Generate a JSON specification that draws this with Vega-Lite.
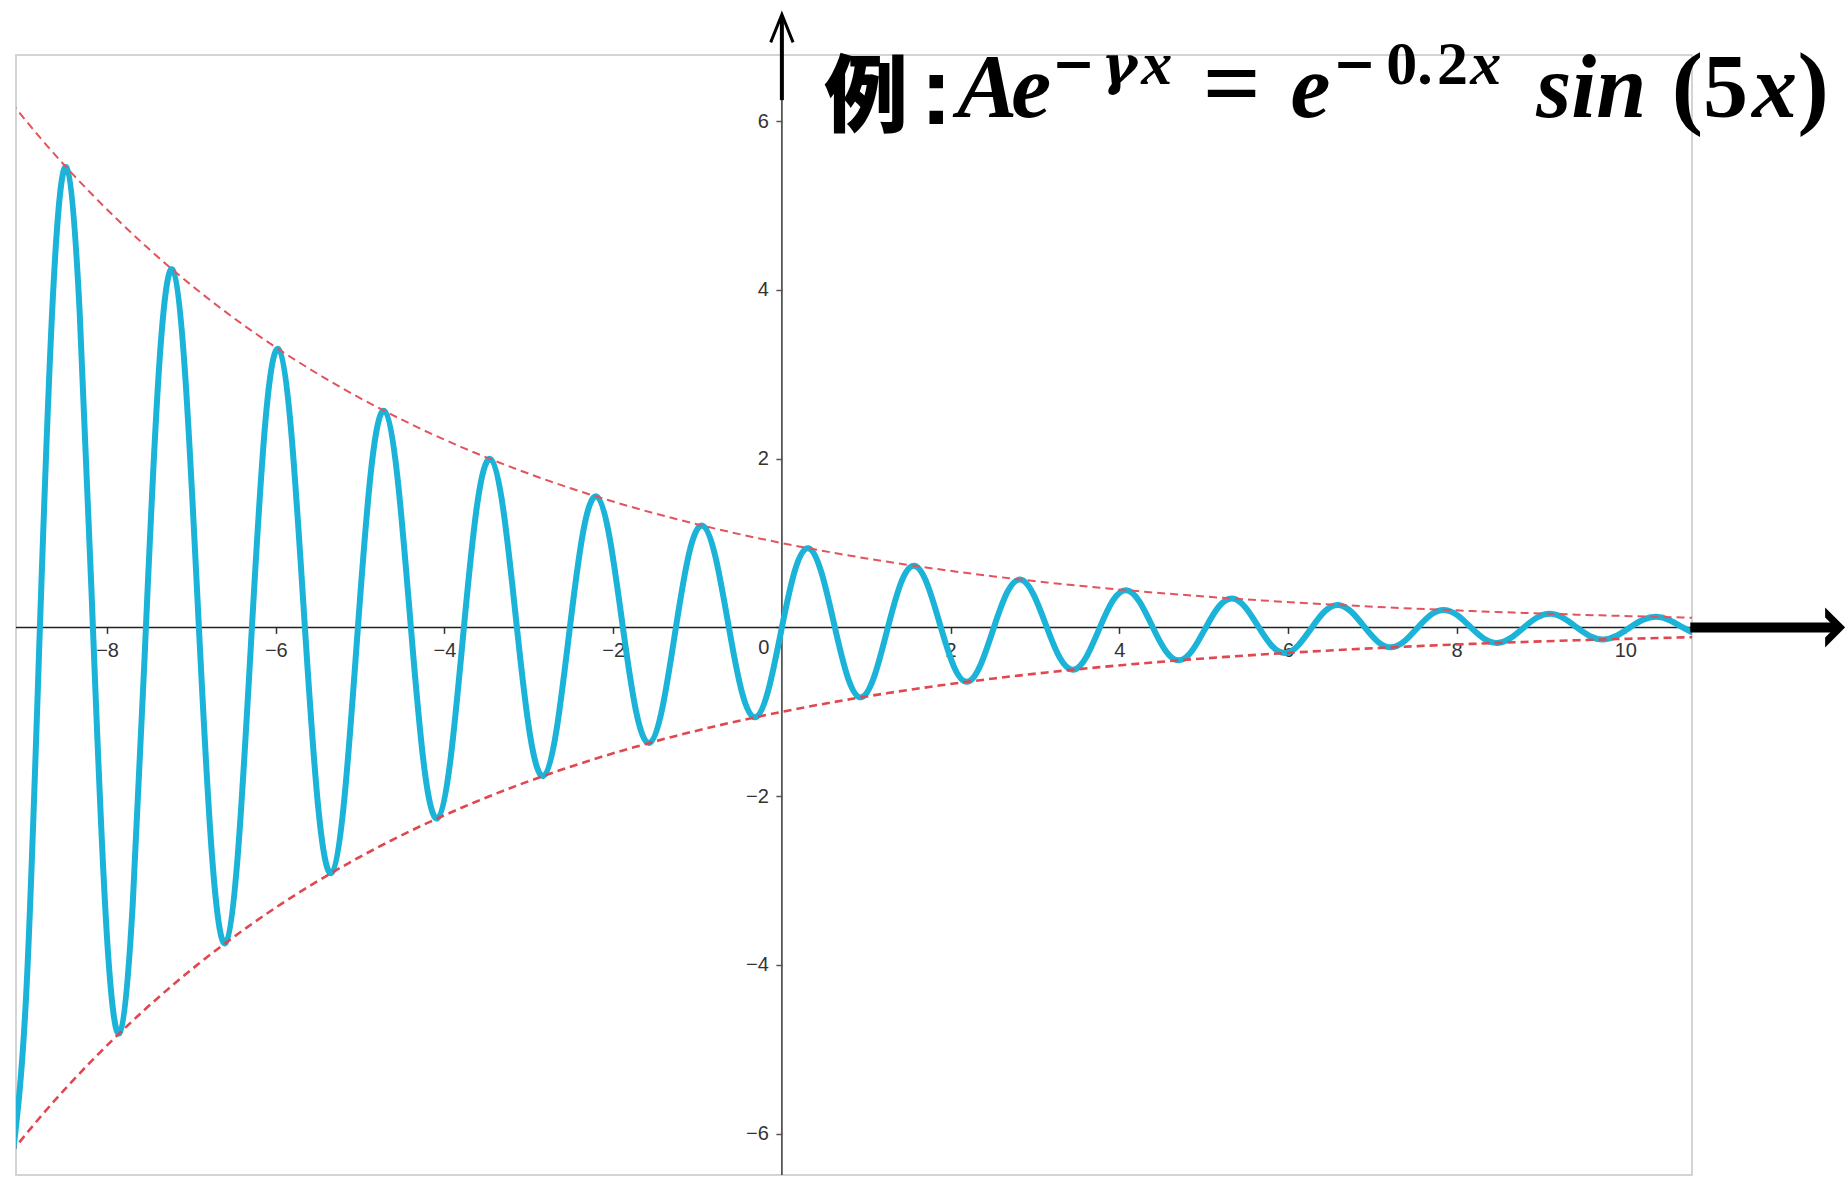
{
  "$schema": "https://vega.github.io/schema/vega-lite/v6.json",
  "width": 1676,
  "height": 1120,
  "autosize": {"type": "none"},
  "padding": {"left": 16, "top": 55, "right": 153, "bottom": 7},
  "background": "white",
  "config": {
    "view": {"stroke": "#d4d4d4", "strokeWidth": 2}
  },
  "data": {"values": [{}]},
  "datasets": {
    "wave": [
      {"x": -9.1106, "y": -6.185}, {"x": -8.9535, "y": -4.2382}, {"x": -8.7965, "y": 0}, {"x": -8.6394, "y": 3.9801},
      {"x": -8.4823, "y": 5.4546}, {"x": -8.3252, "y": 3.7377}, {"x": -8.1681, "y": 0}, {"x": -8.0111, "y": -3.5101},
      {"x": -7.854, "y": -4.8105}, {"x": -7.6969, "y": -3.2963}, {"x": -7.5398, "y": 0}, {"x": -7.3827, "y": 3.0956},
      {"x": -7.2257, "y": 4.2424}, {"x": -7.0686, "y": 2.9071}, {"x": -6.9115, "y": 0}, {"x": -6.7544, "y": -2.73},
      {"x": -6.5973, "y": -3.7414}, {"x": -6.4403, "y": -2.5638}, {"x": -6.2832, "y": 0}, {"x": -6.1261, "y": 2.4076},
      {"x": -5.969, "y": 3.2996}, {"x": -5.8119, "y": 2.261}, {"x": -5.6549, "y": 0}, {"x": -5.4978, "y": -2.1233},
      {"x": -5.3407, "y": -2.91}, {"x": -5.1836, "y": -1.994}, {"x": -5.0265, "y": 0}, {"x": -4.8695, "y": 1.8726},
      {"x": -4.7124, "y": 2.5663}, {"x": -4.5553, "y": 1.7586}, {"x": -4.3982, "y": 0}, {"x": -4.2412, "y": -1.6515},
      {"x": -4.0841, "y": -2.2633}, {"x": -3.927, "y": -1.5509}, {"x": -3.7699, "y": 0}, {"x": -3.6128, "y": 1.4564},
      {"x": -3.4558, "y": 1.996}, {"x": -3.2987, "y": 1.3677}, {"x": -3.1416, "y": 0}, {"x": -2.9845, "y": -1.2845},
      {"x": -2.8274, "y": -1.7603}, {"x": -2.6704, "y": -1.2062}, {"x": -2.5133, "y": 0}, {"x": -2.3562, "y": 1.1328},
      {"x": -2.1991, "y": 1.5524}, {"x": -2.042, "y": 1.0638}, {"x": -1.885, "y": 0}, {"x": -1.7279, "y": -0.999},
      {"x": -1.5708, "y": -1.3691}, {"x": -1.4137, "y": -0.9382}, {"x": -1.2566, "y": 0}, {"x": -1.0996, "y": 0.881},
      {"x": -0.9425, "y": 1.2074}, {"x": -0.7854, "y": 0.8274}, {"x": -0.6283, "y": 0}, {"x": -0.4712, "y": -0.777},
      {"x": -0.3142, "y": -1.0648}, {"x": -0.1571, "y": -0.7297}, {"x": 0, "y": 0}, {"x": 0.1571, "y": 0.6852},
      {"x": 0.3142, "y": 0.9391}, {"x": 0.4712, "y": 0.6435}, {"x": 0.6283, "y": 0}, {"x": 0.7854, "y": -0.6043},
      {"x": 0.9425, "y": -0.8282}, {"x": 1.0996, "y": -0.5675}, {"x": 1.2566, "y": 0}, {"x": 1.4137, "y": 0.533},
      {"x": 1.5708, "y": 0.7304}, {"x": 1.7279, "y": 0.5005}, {"x": 1.885, "y": 0}, {"x": 2.042, "y": -0.47},
      {"x": 2.1991, "y": -0.6441}, {"x": 2.3562, "y": -0.4414}, {"x": 2.5133, "y": 0}, {"x": 2.6704, "y": 0.4145},
      {"x": 2.8274, "y": 0.5681}, {"x": 2.9845, "y": 0.3893}, {"x": 3.1416, "y": 0}, {"x": 3.2987, "y": -0.3656},
      {"x": 3.4558, "y": -0.501}, {"x": 3.6128, "y": -0.3433}, {"x": 3.7699, "y": 0}, {"x": 3.927, "y": 0.3224},
      {"x": 4.0841, "y": 0.4418}, {"x": 4.2412, "y": 0.3028}, {"x": 4.3982, "y": 0}, {"x": 4.5553, "y": -0.2843},
      {"x": 4.7124, "y": -0.3897}, {"x": 4.8695, "y": -0.267}, {"x": 5.0265, "y": 0}, {"x": 5.1836, "y": 0.2508},
      {"x": 5.3407, "y": 0.3436}, {"x": 5.4978, "y": 0.2355}, {"x": 5.6549, "y": 0}, {"x": 5.8119, "y": -0.2211},
      {"x": 5.969, "y": -0.3031}, {"x": 6.1261, "y": -0.2077}, {"x": 6.2832, "y": 0}, {"x": 6.4403, "y": 0.195},
      {"x": 6.5973, "y": 0.2673}, {"x": 6.7544, "y": 0.1831}, {"x": 6.9115, "y": 0}, {"x": 7.0686, "y": -0.172},
      {"x": 7.2257, "y": -0.2357}, {"x": 7.3827, "y": -0.1615}, {"x": 7.5398, "y": 0}, {"x": 7.6969, "y": 0.1517},
      {"x": 7.854, "y": 0.2079}, {"x": 8.0111, "y": 0.1424}, {"x": 8.1681, "y": 0}, {"x": 8.3252, "y": -0.1338},
      {"x": 8.4823, "y": -0.1833}, {"x": 8.6394, "y": -0.1256}, {"x": 8.7965, "y": 0}, {"x": 8.9535, "y": 0.118},
      {"x": 9.1106, "y": 0.1617}, {"x": 9.2677, "y": 0.1108}, {"x": 9.4248, "y": 0}, {"x": 9.5819, "y": -0.104},
      {"x": 9.7389, "y": -0.1426}, {"x": 9.896, "y": -0.0977}, {"x": 10.0531, "y": 0}, {"x": 10.2102, "y": 0.0918},
      {"x": 10.3673, "y": 0.1258}, {"x": 10.5243, "y": 0.0862}, {"x": 10.6814, "y": 0}, {"x": 10.8385, "y": -0.0809}
    ],
    "envelope": [
      {"x": -9.4248, "up": 6.5861, "low": -6.5861}, {"x": -8.7965, "up": 5.8083, "low": -5.8083},
      {"x": -8.1681, "up": 5.1224, "low": -5.1224}, {"x": -7.5398, "up": 4.5175, "low": -4.5175},
      {"x": -6.9115, "up": 3.9841, "low": -3.9841}, {"x": -6.2832, "up": 3.5136, "low": -3.5136},
      {"x": -5.6549, "up": 3.0987, "low": -3.0987}, {"x": -5.0265, "up": 2.7328, "low": -2.7328},
      {"x": -4.3982, "up": 2.41, "low": -2.41}, {"x": -3.7699, "up": 2.1255, "low": -2.1255},
      {"x": -3.1416, "up": 1.8745, "low": -1.8745}, {"x": -2.5133, "up": 1.6531, "low": -1.6531},
      {"x": -1.885, "up": 1.4579, "low": -1.4579}, {"x": -1.2566, "up": 1.2857, "low": -1.2857},
      {"x": -0.6283, "up": 1.1339, "low": -1.1339}, {"x": 0, "up": 1, "low": -1},
      {"x": 0.6283, "up": 0.8819, "low": -0.8819}, {"x": 1.2566, "up": 0.7778, "low": -0.7778},
      {"x": 1.885, "up": 0.6859, "low": -0.6859}, {"x": 2.5133, "up": 0.6049, "low": -0.6049},
      {"x": 3.1416, "up": 0.5335, "low": -0.5335}, {"x": 3.7699, "up": 0.4705, "low": -0.4705},
      {"x": 4.3982, "up": 0.4149, "low": -0.4149}, {"x": 5.0265, "up": 0.3659, "low": -0.3659},
      {"x": 5.6549, "up": 0.3227, "low": -0.3227}, {"x": 6.2832, "up": 0.2846, "low": -0.2846},
      {"x": 6.9115, "up": 0.251, "low": -0.251}, {"x": 7.5398, "up": 0.2214, "low": -0.2214},
      {"x": 8.1681, "up": 0.1952, "low": -0.1952}, {"x": 8.7965, "up": 0.1722, "low": -0.1722},
      {"x": 9.4248, "up": 0.1518, "low": -0.1518}, {"x": 10.0531, "up": 0.1339, "low": -0.1339},
      {"x": 10.6814, "up": 0.1181, "low": -0.1181}, {"x": 11.3097, "up": 0.1042, "low": -0.1042}
    ]
  },
  "layer": [
    {
      "mark": {"type": "rule", "color": "#222222", "strokeWidth": 1.6},
      "encoding": {
        "y": {
          "datum": 0, "type": "quantitative",
          "scale": {"domain": [-6.49, 6.785], "nice": false, "zero": false},
          "axis": {
            "orient": "left", "title": null, "grid": false, "domain": false,
            "values": [-6, -4, -2, 0, 2, 4, 6], "format": "d",
            "offset": -765.9,
            "tickSize": 6, "tickWidth": 1.5, "tickColor": "#555555",
            "labelFont": "Liberation Sans", "labelFontSize": 20, "labelColor": "#333333",
            "labelPadding": 7.5, "labelOverlap": false, "labelFlush": false,
            "labelExpr": "datum.value === 0 ? '' : datum.label"
          }
        }
      }
    },
    {
      "mark": {"type": "rule", "color": "#555555", "strokeWidth": 1.8},
      "encoding": {
        "x": {
          "datum": 0, "type": "quantitative",
          "scale": {"domain": [-9.08, 10.79], "nice": false, "zero": false},
          "axis": {
            "orient": "bottom", "title": null, "grid": false, "domain": false,
            "values": [-8, -6, -4, -2, 0, 2, 4, 6, 8, 10], "format": "d",
            "offset": -547.6,
            "tickSize": 6, "tickWidth": 1.5, "tickColor": "#333333",
            "labelFont": "Liberation Sans", "labelFontSize": 20, "labelColor": "#333333",
            "labelPadding": 7, "labelOverlap": false, "labelFlush": false,
            "labelExpr": "datum.value === 0 ? '' : datum.label"
          }
        }
      }
    },
    {
      "data": {"name": "wave"},
      "mark": {"type": "line", "interpolate": "natural", "color": "#1bb3d8", "strokeWidth": 6, "clip": true},
      "encoding": {
        "x": {"field": "x", "type": "quantitative"},
        "y": {"field": "y", "type": "quantitative"}
      }
    },
    {
      "data": {"name": "envelope"},
      "mark": {"type": "line", "interpolate": "natural", "color": "#e3535d", "strokeWidth": 2, "strokeDash": [8, 5], "clip": true},
      "encoding": {
        "x": {"field": "x", "type": "quantitative"},
        "y": {"field": "up", "type": "quantitative"}
      }
    },
    {
      "data": {"name": "envelope"},
      "mark": {"type": "line", "interpolate": "natural", "color": "#e0474f", "strokeWidth": 2.6, "strokeDash": [8, 5], "clip": true},
      "encoding": {
        "x": {"field": "x", "type": "quantitative"},
        "y": {"field": "low", "type": "quantitative"}
      }
    },
    {
      "mark": {"type": "text", "text": "0", "font": "Liberation Sans", "fontSize": 20, "color": "#333333", "align": "center", "baseline": "alphabetic", "dx": -18, "dy": 27},
      "encoding": {
        "x": {"datum": 0, "type": "quantitative"},
        "y": {"datum": 0, "type": "quantitative"}
      }
    },
    {
      "mark": {"type": "rule", "color": "black", "strokeWidth": 10},
      "encoding": {
        "x": {"datum": 10.77, "type": "quantitative"},
        "x2": {"datum": 12.49},
        "y": {"datum": 0, "type": "quantitative"}
      }
    },
    {
      "mark": {"type": "point", "shape": "M0.5,0L-0.5,-1L-0.5,-0.5L0,0L-0.5,0.5L-0.5,1Z", "size": 1600, "filled": true, "color": "black", "opacity": 1},
      "encoding": {
        "x": {"datum": 12.487, "type": "quantitative"},
        "y": {"datum": 0, "type": "quantitative"}
      }
    },
    {
      "mark": {"type": "rule", "color": "black", "strokeWidth": 4},
      "encoding": {
        "x": {"datum": 0, "type": "quantitative"},
        "y": {"datum": 6.25, "type": "quantitative"},
        "y2": {"datum": 7.25}
      }
    },
    {
      "mark": {"type": "point", "shape": "M-0.8,1L0,-1L0.8,1", "size": 784, "filled": false, "color": "black", "strokeWidth": 3, "opacity": 1},
      "encoding": {
        "x": {"datum": 0, "type": "quantitative"},
        "y": {"datum": 7.1, "type": "quantitative"}
      }
    },
    {
      "mark": {"type": "text", "text": "例", "font": "Noto Sans CJK JP", "fontWeight": 900, "fontSize": 84, "color": "black", "align": "left", "baseline": "alphabetic"},
      "encoding": {"x": {"datum": 0.5, "type": "quantitative"}, "y": {"datum": 5.96, "type": "quantitative"}}
    },
    {
      "mark": {"type": "text", "text": ":", "font": "Liberation Sans", "fontWeight": "bold", "fontSize": 96, "color": "black", "align": "left", "baseline": "alphabetic"},
      "encoding": {"x": {"datum": 1.64, "type": "quantitative"}, "y": {"datum": 5.965, "type": "quantitative"}}
    },
    {
      "mark": {"type": "text", "text": "A", "font": "Liberation Serif", "fontStyle": "italic", "fontWeight": "bold", "fontSize": 90, "color": "black", "align": "left", "baseline": "alphabetic"},
      "encoding": {"x": {"datum": 2.08, "type": "quantitative"}, "y": {"datum": 6.048, "type": "quantitative"}}
    },
    {
      "mark": {"type": "text", "text": "e", "font": "Liberation Serif", "fontStyle": "italic", "fontWeight": "bold", "fontSize": 90, "color": "black", "align": "left", "baseline": "alphabetic"},
      "encoding": {"x": {"datum": 2.72, "type": "quantitative"}, "y": {"datum": 6.048, "type": "quantitative"}}
    },
    {
      "mark": {"type": "text", "text": "−", "font": "DejaVu Sans", "fontWeight": "bold", "fontSize": 52, "color": "black", "align": "left", "baseline": "alphabetic"},
      "encoding": {"x": {"datum": 3.2, "type": "quantitative"}, "y": {"datum": 6.48, "type": "quantitative"}}
    },
    {
      "mark": {"type": "text", "text": "γ", "font": "DejaVu Serif", "fontStyle": "italic", "fontWeight": "bold", "fontSize": 54, "color": "black", "align": "left", "baseline": "alphabetic"},
      "encoding": {"x": {"datum": 3.79, "type": "quantitative"}, "y": {"datum": 6.439, "type": "quantitative"}}
    },
    {
      "mark": {"type": "text", "text": "x", "font": "Liberation Serif", "fontStyle": "italic", "fontWeight": "bold", "fontSize": 62, "color": "black", "align": "left", "baseline": "alphabetic"},
      "encoding": {"x": {"datum": 4.26, "type": "quantitative"}, "y": {"datum": 6.439, "type": "quantitative"}}
    },
    {
      "mark": {"type": "text", "text": "=", "font": "Liberation Serif", "fontWeight": "bold", "fontSize": 102, "color": "black", "align": "left", "baseline": "alphabetic"},
      "encoding": {"x": {"datum": 4.99, "type": "quantitative"}, "y": {"datum": 6.048, "type": "quantitative"}}
    },
    {
      "mark": {"type": "text", "text": "e", "font": "Liberation Serif", "fontStyle": "italic", "fontWeight": "bold", "fontSize": 90, "color": "black", "align": "left", "baseline": "alphabetic"},
      "encoding": {"x": {"datum": 6.03, "type": "quantitative"}, "y": {"datum": 6.048, "type": "quantitative"}}
    },
    {
      "mark": {"type": "text", "text": "−", "font": "DejaVu Sans", "fontWeight": "bold", "fontSize": 52, "color": "black", "align": "left", "baseline": "alphabetic"},
      "encoding": {"x": {"datum": 6.53, "type": "quantitative"}, "y": {"datum": 6.48, "type": "quantitative"}}
    },
    {
      "mark": {"type": "text", "text": "0.", "font": "Liberation Serif", "fontWeight": "bold", "fontSize": 62, "color": "black", "align": "left", "baseline": "alphabetic"},
      "encoding": {"x": {"datum": 7.164, "type": "quantitative"}, "y": {"datum": 6.439, "type": "quantitative"}}
    },
    {
      "mark": {"type": "text", "text": "2", "font": "Liberation Serif", "fontWeight": "bold", "fontSize": 62, "color": "black", "align": "left", "baseline": "alphabetic"},
      "encoding": {"x": {"datum": 7.768, "type": "quantitative"}, "y": {"datum": 6.439, "type": "quantitative"}}
    },
    {
      "mark": {"type": "text", "text": "x", "font": "Liberation Serif", "fontStyle": "italic", "fontWeight": "bold", "fontSize": 62, "color": "black", "align": "left", "baseline": "alphabetic"},
      "encoding": {"x": {"datum": 8.16, "type": "quantitative"}, "y": {"datum": 6.439, "type": "quantitative"}}
    },
    {
      "mark": {"type": "text", "text": "sin", "font": "Liberation Serif", "fontStyle": "italic", "fontWeight": "bold", "fontSize": 90, "color": "black", "align": "left", "baseline": "alphabetic"},
      "encoding": {"x": {"datum": 8.943, "type": "quantitative"}, "y": {"datum": 6.048, "type": "quantitative"}}
    },
    {
      "mark": {"type": "text", "text": "(", "font": "Liberation Serif", "fontWeight": "bold", "fontSize": 94, "color": "black", "align": "left", "baseline": "alphabetic"},
      "encoding": {"x": {"datum": 10.55, "type": "quantitative"}, "y": {"datum": 6.048, "type": "quantitative"}}
    },
    {
      "mark": {"type": "text", "text": "5", "font": "Liberation Serif", "fontWeight": "bold", "fontSize": 90, "color": "black", "align": "left", "baseline": "alphabetic"},
      "encoding": {"x": {"datum": 10.92, "type": "quantitative"}, "y": {"datum": 6.048, "type": "quantitative"}}
    },
    {
      "mark": {"type": "text", "text": "x", "font": "Liberation Serif", "fontStyle": "italic", "fontWeight": "bold", "fontSize": 90, "color": "black", "align": "left", "baseline": "alphabetic"},
      "encoding": {"x": {"datum": 11.5, "type": "quantitative"}, "y": {"datum": 6.048, "type": "quantitative"}}
    },
    {
      "mark": {"type": "text", "text": ")", "font": "Liberation Serif", "fontWeight": "bold", "fontSize": 94, "color": "black", "align": "left", "baseline": "alphabetic"},
      "encoding": {"x": {"datum": 12.04, "type": "quantitative"}, "y": {"datum": 6.048, "type": "quantitative"}}
    }
  ]
}
